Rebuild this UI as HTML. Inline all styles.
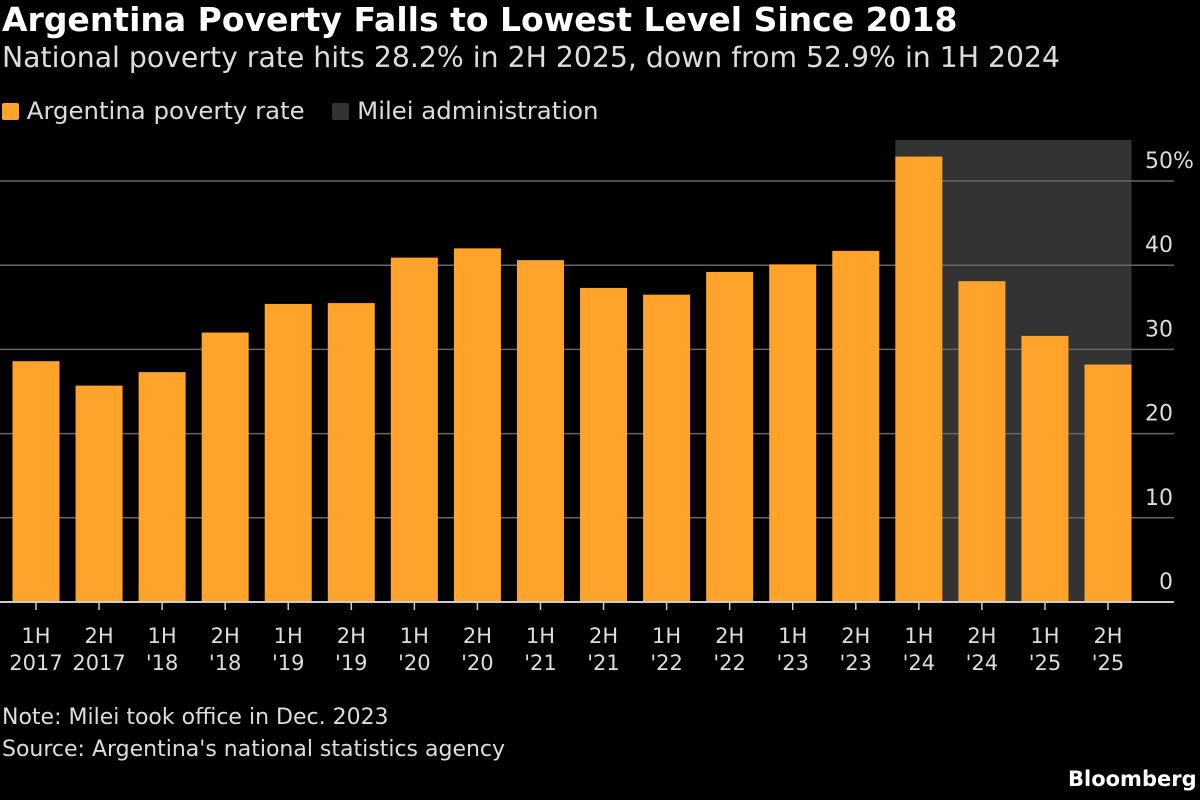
<!DOCTYPE html>
<html><head><meta charset="utf-8"><style>
body{margin:0;background:#000;width:1200px;height:800px;overflow:hidden;font-family:"DejaVu Sans",sans-serif;color:#fff}
.t{position:absolute;left:2px;white-space:nowrap}
</style></head><body>
<div class="t" style="top:0px;font-size:33px;font-weight:bold">Argentina Poverty Falls to Lowest Level Since 2018</div>
<div class="t" style="top:41px;font-size:28.3px;color:#ddd">National poverty rate hits 28.2% in 2H 2025, down from 52.9% in 1H 2024</div>
<div class="t" style="top:96px;font-size:24.4px;color:#ddd">
<span><span style="display:inline-block;width:17px;height:17px;background:#ffa32b;border-radius:2px;vertical-align:-1px"></span> Argentina poverty rate</span>
<span style="margin-left:20px"><span style="display:inline-block;width:17px;height:17px;background:#333;border-radius:2px;vertical-align:-1px"></span> Milei administration</span></div>
<svg id="c" width="1200" height="800" style="position:absolute;left:0;top:0"></svg>
<div class="t" style="top:705px;font-size:22px;color:#ddd">Note: Milei took office in Dec. 2023</div>
<div class="t" style="top:737px;font-size:22px;color:#ddd">Source: Argentina's national statistics agency</div>
<div class="t" style="left:1068px;top:767px;font-size:21px;font-weight:bold">Bloomberg</div>
<script>
const labels1=["1H","2H","1H","2H","1H","2H","1H","2H","1H","2H","1H","2H","1H","2H","1H","2H","1H","2H"];
const labels2=["2017","2017","'18","'18","'19","'19","'20","'20","'21","'21","'22","'22","'23","'23","'24","'24","'25","'25"];
const values=[28.6,25.7,27.3,32.0,35.4,35.5,40.9,42.0,40.6,37.3,36.5,39.2,40.1,41.7,52.9,38.1,31.6,28.2];
const ticks=[0,10,20,30,40,50];
const mileiStart=14;
const svg=document.getElementById('c');const NS="http://www.w3.org/2000/svg";
const y=v=>602-v*8.42;const step=63.06;const x=i=>36+i*step;const bw=47;
function mk(t,a){const e=document.createElementNS(NS,t);for(const k in a)e.setAttribute(k,a[k]);svg.appendChild(e);return e;}
const sx=x(mileiStart)-bw/2;
const sh=mk('rect',{x:sx,y:140,width:x(values.length-1)+bw/2-sx,height:462,fill:'#333'});


ticks.forEach(t=>{
 if(t>0){const g=mk('line',{x1:0,x2:1174,y1:y(t),y2:y(t),stroke:'#666','stroke-width':1.5});
 
 }
 const l=mk('text',{x:1173,y:y(t)-13,fill:'#ddd','font-size':22,'text-anchor':'end','font-family':'DejaVu Sans'});
 l.textContent=t;
 if(t==50){const p=document.createElementNS(NS,'tspan');p.textContent='%';l.appendChild(p);l.setAttribute('text-anchor','start');l.setAttribute('x',1173-28);}
 
 
});
values.forEach((v,i)=>{
 const r=mk('rect',{x:x(i)-bw/2,y:y(v),width:bw,height:602-y(v),fill:'#ffa32b'});
 
 
 mk('line',{x1:x(i),x2:x(i),y1:602,y2:610,stroke:'#ccc','stroke-width':1.5});
 [labels1[i],labels2[i]].forEach((s,j)=>{
  const t=mk('text',{x:x(i),y:643+j*27,fill:'#ddd','font-size':21,'text-anchor':'middle','font-family':'DejaVu Sans'});
  t.textContent=s;
  
  
 });
});
const ax=mk('line',{x1:0,x2:1174,y1:602,y2:602,stroke:'#ccc','stroke-width':2});


</script>
</body></html>
